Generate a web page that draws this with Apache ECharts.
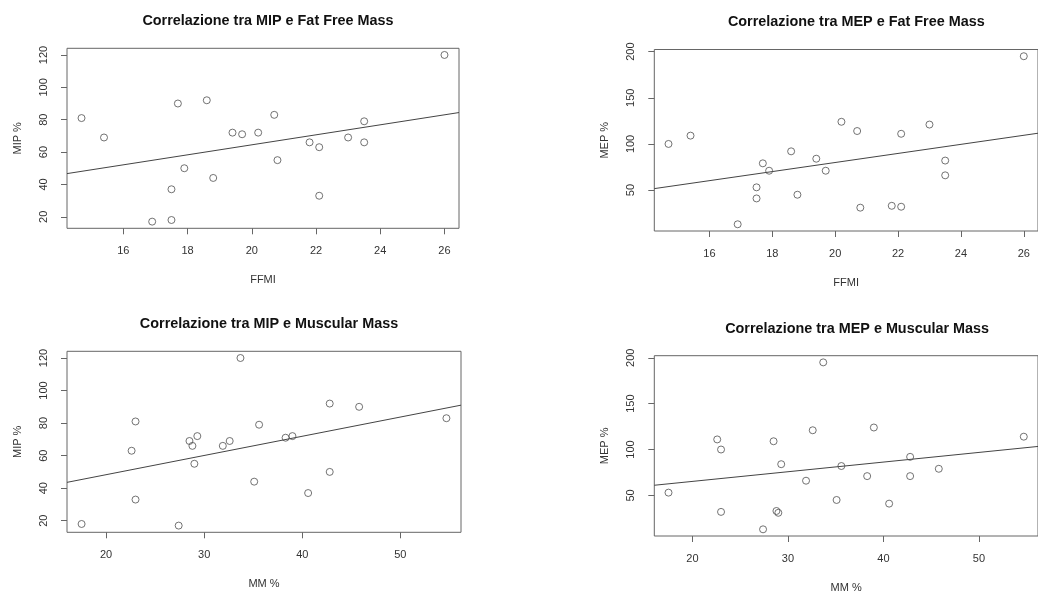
<!DOCTYPE html>
<html>
<head>
<meta charset="utf-8">
<title>Correlazioni MIP / MEP</title>
<script src="https://cdn.jsdelivr.net/npm/echarts@6/dist/echarts.min.js"></script>
<style>
  html, body { margin: 0; padding: 0; background: #fff; }
  #chart { width: 1038px; height: 594px; }
</style>
</head>
<body>
<div id="chart"></div>
<script>
// One row per subject: fat free mass index, muscular mass %, MIP %, MEP %
const ffmi = [14.7, 15.4, 16.9, 17.5, 17.5, 17.7, 17.9, 18.6, 18.8, 19.4, 19.7,
              20.2, 20.7, 20.8, 21.8, 22.1, 22.1, 23.0, 23.5, 23.5, 26.0];
const mmPct = [23.0, 28.5, 27.4, 40.6, 17.5, 45.8, 42.8, 42.8, 35.1, 29.3, 38.3,
               39.0, 54.7, 29.0, 28.8, 22.6, 23.0, 32.6, 35.6, 31.9, 33.7];
const mipPct = [81, 69, 17, 37, 18, 90, 50, 92, 44, 72, 71,
                72, 83, 55, 66, 63, 33, 69, 79, 66, 120];
const mepPct = [100, 109, 13, 41, 53, 79, 71, 92, 45, 84, 71,
                124, 114, 31, 33, 111, 32, 121, 82, 66, 195];

// Tick labels
const ffmiTicks = [16, 18, 20, 22, 24, 26];
const mmTicks = [20, 30, 40, 50];
const mipTicks = [20, 40, 60, 80, 100, 120];
const mepTicks = [50, 100, 150, 200];

// Titles and axis names
const titles = [
  'Correlazione tra MIP e Fat Free Mass',
  'Correlazione tra MEP e Fat Free Mass',
  'Correlazione tra MIP e Muscular Mass',
  'Correlazione tra MEP e Muscular Mass'
];

const FONT = '"Liberation Sans", Arial, Helvetica, sans-serif';
const TEXT = '#333';
const INK = '#505050';

// Axis range padded by 4% on each side, like a default base plot
function paddedRange(values) {
  const lo = Math.min(...values), hi = Math.max(...values);
  const pad = (hi - lo) * 0.04;
  return [lo - pad, hi + pad];
}

// Ordinary least squares fit y = a + b x
function leastSquares(xs, ys) {
  const n = xs.length;
  const mx = xs.reduce((s, v) => s + v, 0) / n;
  const my = ys.reduce((s, v) => s + v, 0) / n;
  let sxy = 0, sxx = 0;
  for (let i = 0; i < n; i++) {
    sxy += (xs[i] - mx) * (ys[i] - my);
    sxx += (xs[i] - mx) * (xs[i] - mx);
  }
  const b = sxy / sxx;
  return { a: my - b * mx, b: b };
}

const panels = [
  { xs: ffmi,  ys: mipPct, xName: 'FFMI', yName: 'MIP %', xTicks: ffmiTicks, yTicks: mipTicks,
    box: { left: 67,    top: 48.3,  width: 392,   height: 180 } },
  { xs: ffmi,  ys: mepPct, xName: 'FFMI', yName: 'MEP %', xTicks: ffmiTicks, yTicks: mepTicks,
    box: { left: 654.3, top: 49.5,  width: 394,   height: 181.5 } },
  { xs: mmPct, ys: mipPct, xName: 'MM %', yName: 'MIP %', xTicks: mmTicks,   yTicks: mipTicks,
    box: { left: 67,    top: 351.3, width: 394,   height: 181 } },
  { xs: mmPct, ys: mepPct, xName: 'MM %', yName: 'MEP %', xTicks: mmTicks,   yTicks: mepTicks,
    box: { left: 654.3, top: 355.7, width: 395.6, height: 181.2 } }
];

const grid = [], xAxis = [], yAxis = [], series = [], title = [];

panels.forEach((p, i) => {
  const xr = paddedRange(p.xs);
  const yr = paddedRange(p.ys);

  grid.push({
    left: p.box.left, top: p.box.top, width: p.box.width, height: p.box.height,
    show: true, borderColor: '#666', borderWidth: 1, backgroundColor: 'transparent'
  });

  xAxis.push({
    gridIndex: i, type: 'value', min: xr[0], max: xr[1],
    name: p.xName, nameLocation: 'middle', nameGap: 46,
    nameTextStyle: { fontFamily: FONT, fontSize: 11, color: TEXT },
    axisLine: { show: false },
    splitLine: { show: false },
    axisTick: { show: true, inside: false, length: 6, customValues: p.xTicks,
                lineStyle: { color: '#666', width: 1 } },
    axisLabel: { show: true, margin: 17, customValues: p.xTicks,
                 fontFamily: FONT, fontSize: 11, color: TEXT }
  });

  yAxis.push({
    gridIndex: i, type: 'value', min: yr[0], max: yr[1],
    name: p.yName, nameLocation: 'middle', nameGap: 44, nameRotate: 90,
    nameTextStyle: { fontFamily: FONT, fontSize: 11, color: TEXT },
    axisLine: { show: false },
    splitLine: { show: false },
    axisTick: { show: true, inside: false, length: 6, customValues: p.yTicks,
                lineStyle: { color: '#666', width: 1 } },
    axisLabel: { show: true, margin: 18, rotate: 90, customValues: p.yTicks,
                 fontFamily: FONT, fontSize: 11, color: TEXT }
  });

  series.push({
    type: 'scatter', xAxisIndex: i, yAxisIndex: i,
    data: p.xs.map((x, k) => [x, p.ys[k]]),
    symbol: 'circle', symbolSize: 7,
    itemStyle: { color: 'rgba(0,0,0,0)', borderColor: INK, borderWidth: 1 },
    emphasis: { disabled: true },
    z: 3
  });

  // Regression line across the whole plotting region
  const fit = leastSquares(p.xs, p.ys);
  series.push({
    type: 'line', xAxisIndex: i, yAxisIndex: i,
    data: [[xr[0], fit.a + fit.b * xr[0]], [xr[1], fit.a + fit.b * xr[1]]],
    showSymbol: false, symbol: 'none', clip: true,
    lineStyle: { color: '#444', width: 1 },
    emphasis: { disabled: true },
    silent: true, z: 2
  });

  title.push({
    text: titles[i],
    left: p.box.left + p.box.width / 2,
    top: p.box.top - 39,
    textAlign: 'center',
    textStyle: { fontFamily: FONT, fontSize: 14.4, fontWeight: 'bold', color: '#111' }
  });
});

const chart = echarts.init(document.getElementById('chart'), null, { renderer: 'canvas' });
chart.setOption({
  animation: false,
  backgroundColor: '#fff',
  title: title,
  grid: grid,
  xAxis: xAxis,
  yAxis: yAxis,
  series: series
});
</script>
</body>
</html>
